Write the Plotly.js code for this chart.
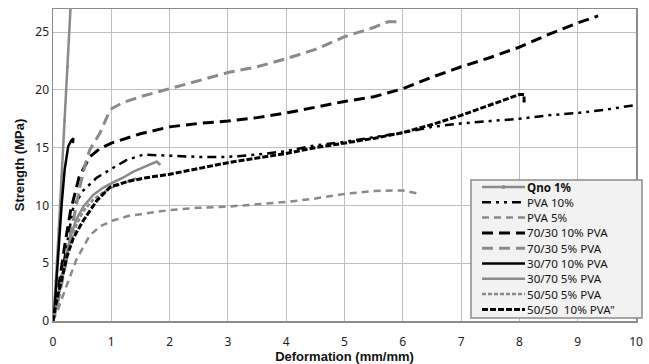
<!DOCTYPE html>
<html><head><meta charset="utf-8">
<script src="https://cdn.plot.ly/plotly-3.0.1.min.js"></script>
<style>html,body{margin:0;padding:0;background:#fff}#chart{width:649px;height:364px}</style>
</head><body><div id="chart"></div>
<script>
var seriesNames = ["<b>Qno 1%</b>", "PVA 10%", "PVA 5%", "70/30 10% PVA", "70/30 5% PVA", "30/70 10% PVA", "30/70 5% PVA", "50/50 5% PVA", "50/50  10% PVA\""];

var qnoX = [0, 0.05, 0.1, 0.15, 0.2, 0.25, 0.31];
var qnoY = [0, 3.5, 8, 12.5, 17.4, 22, 28];

var pva10X = [0, 0.1, 0.2, 0.35, 0.52, 0.75, 0.98, 1.25, 1.55, 2.0, 2.5, 3.0, 3.5, 4.0, 4.5, 5.0, 5.5, 6.0, 6.5, 7.0, 7.5, 8.0, 8.5, 9.0, 9.5, 10.0];
var pva10Y = [0, 2.5, 5.5, 9.9, 11.3, 12.4, 13.1, 13.9, 14.4, 14.3, 14.2, 14.2, 14.4, 14.7, 15.2, 15.5, 15.9, 16.3, 16.8, 17.1, 17.3, 17.5, 17.8, 18.0, 18.3, 18.7];

var pva5X = [0, 0.1, 0.2, 0.3, 0.4, 0.52, 0.63, 0.81, 1.03, 1.3, 1.55, 2.0, 2.5, 3.0, 3.5, 4.0, 4.5, 5.0, 5.5, 6.0, 6.24];
var pva5Y = [0, 1.2, 2.6, 4.0, 5.3, 6.4, 7.4, 8.2, 8.7, 9.1, 9.3, 9.6, 9.8, 9.9, 10.1, 10.3, 10.6, 11.0, 11.25, 11.3, 11.05];

var m7030p10X = [0, 0.1, 0.2, 0.3, 0.35, 0.45, 0.63, 0.8, 1.0, 1.5, 2.0, 2.5, 3.0, 3.5, 4.0, 4.5, 5.0, 5.5, 6.0, 6.5, 7.0, 7.5, 8.0, 8.5, 9.0, 9.35];
var m7030p10Y = [0, 3, 6.5, 9.5, 10.5, 12.5, 14.2, 14.9, 15.4, 16.2, 16.8, 17.1, 17.3, 17.6, 18.0, 18.5, 19.0, 19.4, 20.1, 21.1, 22.0, 22.8, 23.7, 24.8, 25.8, 26.4];

var m7030p5X = [0, 0.1, 0.2, 0.3, 0.4, 0.46, 0.55, 0.63, 0.81, 0.98, 1.2, 1.49, 2.0, 2.5, 3.0, 3.5, 4.0, 4.5, 5.0, 5.5, 5.75, 5.95];
var m7030p5Y = [0, 2, 4.5, 7.5, 10, 11.6, 13.5, 14.8, 16.3, 18.3, 18.9, 19.4, 20.1, 20.8, 21.5, 22.0, 22.7, 23.5, 24.6, 25.4, 25.9, 25.9];

var m3070p10X = [0, 0.03, 0.06, 0.09, 0.12, 0.15, 0.2, 0.26, 0.31, 0.35, 0.34];
var m3070p10Y = [0, 1.2, 3.5, 5.9, 8.2, 10.2, 13.1, 15.1, 15.6, 15.8, 15.4];

var m3070p5X = [0, 0.1, 0.2, 0.3, 0.4, 0.52, 0.69, 0.85, 1.03, 1.2, 1.37, 1.6, 1.78, 1.84];
var m3070p5Y = [0, 2.5, 5, 7.3, 8.8, 9.9, 10.9, 11.5, 12.0, 12.4, 12.9, 13.4, 13.8, 13.5];

var m5050p5X = [0, 0.1, 0.2, 0.3, 0.4, 0.52, 0.69, 0.85, 1.03, 1.25, 1.46];
var m5050p5Y = [0, 2.2, 4.5, 6.8, 8.3, 9.5, 10.5, 11.1, 11.6, 12.0, 12.4];

var m5050p10X = [0, 0.05, 0.12, 0.24, 0.35, 0.52, 0.75, 0.98, 1.3, 1.6, 2.0, 2.5, 3.0, 3.5, 4.0, 4.5, 5.0, 5.5, 6.0, 6.5, 7.0, 7.5, 7.8, 8.0, 8.08, 8.08];
var m5050p10Y = [0, 1.5, 3, 5.6, 7.2, 8.7, 10.4, 11.6, 12.1, 12.4, 12.7, 13.2, 13.7, 14.1, 14.5, 15.0, 15.4, 15.8, 16.3, 17.0, 17.8, 18.7, 19.3, 19.6, 19.6, 18.9];

var xTicks = [0,1,2,3,4,5,6,7,8,9,10];
var yTicks = [0,5,10,15,20,25];

var GRAY = "#8a8a8a", BLACK = "#000000";
var styles = [
  {color: GRAY,  dash: "solid", width: 2.5, mode: "lines+markers"},
  {color: BLACK, dash: "9px,5px,3px,5px,3px,5px", width: 2.5},
  {color: GRAY,  dash: "7px,5px", width: 2.5},
  {color: BLACK, dash: "11px,6px", width: 3},
  {color: GRAY,  dash: "11px,6px", width: 3},
  {color: BLACK, dash: "solid", width: 2.5},
  {color: GRAY,  dash: "solid", width: 2.5},
  {color: GRAY,  dash: "4px,2px", width: 2.5},
  {color: BLACK, dash: "6px,2px", width: 3}
];
var xs = [qnoX, pva10X, pva5X, m7030p10X, m7030p5X, m3070p10X, m3070p5X, m5050p5X, m5050p10X];
var ys = [qnoY, pva10Y, pva5Y, m7030p10Y, m7030p5Y, m3070p10Y, m3070p5Y, m5050p5Y, m5050p10Y];

var data = xs.map(function (x, i) {
  var s = styles[i];
  return {x: x, y: ys[i], name: seriesNames[i], type: "scatter", mode: s.mode || "lines",
    line: {color: s.color, dash: s.dash, width: s.width},
    marker: {color: s.color, size: 3}, showlegend: false};
});

// manual legend (pixel layout converted to paper coords)
var L = 53, R = 636, T = 9, B = 321;
function PX(p) { return (p - L) / (R - L); }
function PY(p) { return (B - p) / (B - T); }
var shapes = [{type: "rect", xref: "paper", yref: "paper",
  x0: PX(471), x1: PX(642), y0: PY(318), y1: PY(180),
  fillcolor: "#f2f2f2", line: {color: "#8c8c8c", width: 1.5}, layer: "above"}];
var annotations = [];
seriesNames.forEach(function (n, i) {
  var cy = 187 + i * 15.3, s = styles[i];
  shapes.push({type: "line", xref: "paper", yref: "paper",
    x0: PX(482), x1: PX(525), y0: PY(cy), y1: PY(cy),
    line: {color: s.color, dash: s.dash, width: s.width}, layer: "above"});
  if (s.mode) {
    shapes.push({type: "circle", xref: "paper", yref: "paper",
      x0: PX(501.5), x1: PX(505.5), y0: PY(cy + 2), y1: PY(cy - 2),
      fillcolor: s.color, line: {color: s.color, width: 0}, layer: "above"});
  }
  annotations.push({xref: "paper", yref: "paper", x: PX(526), y: PY(cy),
    xanchor: "left", yanchor: "middle", showarrow: false, text: n, borderpad: 0,
    font: {family: "Noto Sans, sans-serif", size: 11.6, color: "#111"}});
});

var layout = {
  width: 649, height: 364,
  margin: {l: L, r: 649 - R, t: T, b: 364 - B},
  paper_bgcolor: "#fff", plot_bgcolor: "#fff",
  font: {family: "Noto Sans, Open Sans, sans-serif", size: 12, color: "#222"},
  showlegend: false,
  shapes: shapes, annotations: annotations,
  xaxis: {range: [0, 10], tickvals: xTicks, ticktext: xTicks.map(String),
    showgrid: true, gridcolor: "#bfbfbf", gridwidth: 1,
    showline: true, linecolor: "#8c8c8c", linewidth: 1.5, mirror: true,
    zeroline: false, ticks: "", ticklabelstandoff: 9, tickfont: {size: 12, color: "#222"},
    title: {text: "<b>Deformation (mm/mm)</b>", font: {family: "Liberation Sans, Arial, sans-serif", size: 13, color: "#111"}, standoff: 0}},
  yaxis: {range: [0, 27], tickvals: yTicks, ticktext: yTicks.map(String),
    showgrid: true, gridcolor: "#bfbfbf", gridwidth: 1,
    showline: true, linecolor: "#8c8c8c", linewidth: 1.5, mirror: true,
    zeroline: false, ticks: "", tickfont: {size: 12, color: "#222"},
    title: {text: "<b>Strength (MPa)</b>", font: {family: "Liberation Sans, Arial, sans-serif", size: 13, color: "#111"}, standoff: 8}}
};
Plotly.newPlot("chart", data, layout, {displayModeBar: false, staticPlot: true});
</script></body></html>
